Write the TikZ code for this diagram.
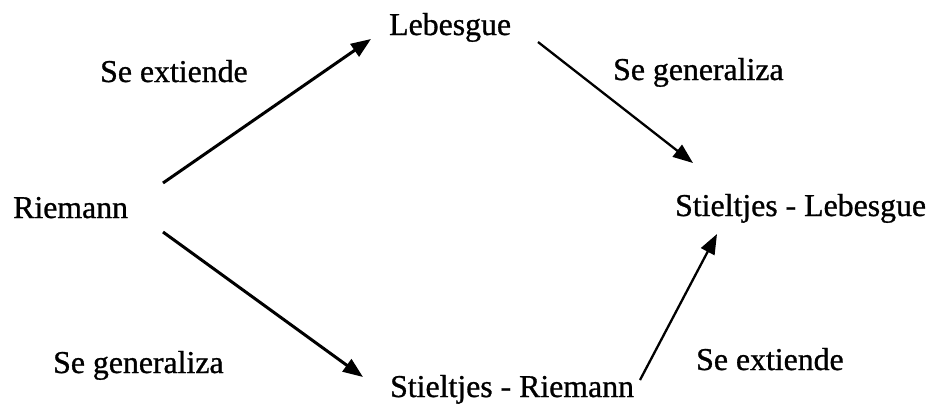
\documentclass[tikz,border=0pt]{standalone}
\usepackage{fontspec}
\setmainfont{Liberation Serif}[BoldFont={Liberation Serif},BoldFeatures={FakeBold=0.9}]
\usetikzlibrary{arrows.meta,calc}
\begin{document}
\begin{tikzpicture}[x=1pt,y=-1pt,
  lbl/.style={anchor=base west,inner sep=0pt,font=\fontsize{31.8}{36}\selectfont\bfseries},
  arr/.style={line width=3pt,-{Triangle[length=20pt,width=15pt]}},
  arrthin/.style={line width=2.3pt,-{Triangle[length=20pt,width=15pt]}}]
\useasboundingbox[fill=white] (0,0) rectangle (932,405);
\node[lbl] (lebesgue) at (389,35) {Lebesgue};
\node[lbl] (ext1) at (100,82) {Se extiende};
\node[lbl] (gen1) at (613,80) {Se generaliza};
\node[lbl] (riemann) at (13,218) {Riemann};
\node[lbl] (sl) at (675,216) {Stieltjes - Lebesgue};
\node[lbl] (gen2) at (53,373) {Se generaliza};
\node[lbl] (sr) at (390,397) {Stieltjes - Riemann};
\node[lbl] (ext2) at (696,370) {Se extiende};
\draw[arr] ($(riemann.base west)+(150,-35)$) -- ($(lebesgue.base west)+(-18,4)$);
\draw[arr] ($(riemann.base west)+(150,14)$) -- ($(sr.base west)+(-27,-20)$);
\draw[arrthin] ($(lebesgue.base west)+(149,7)$) -- ($(sl.base west)+(18,-53)$);
\draw[arrthin] ($(sr.base west)+(250,-17)$) -- ($(sl.base west)+(42,18)$);
\end{tikzpicture}
\end{document}
